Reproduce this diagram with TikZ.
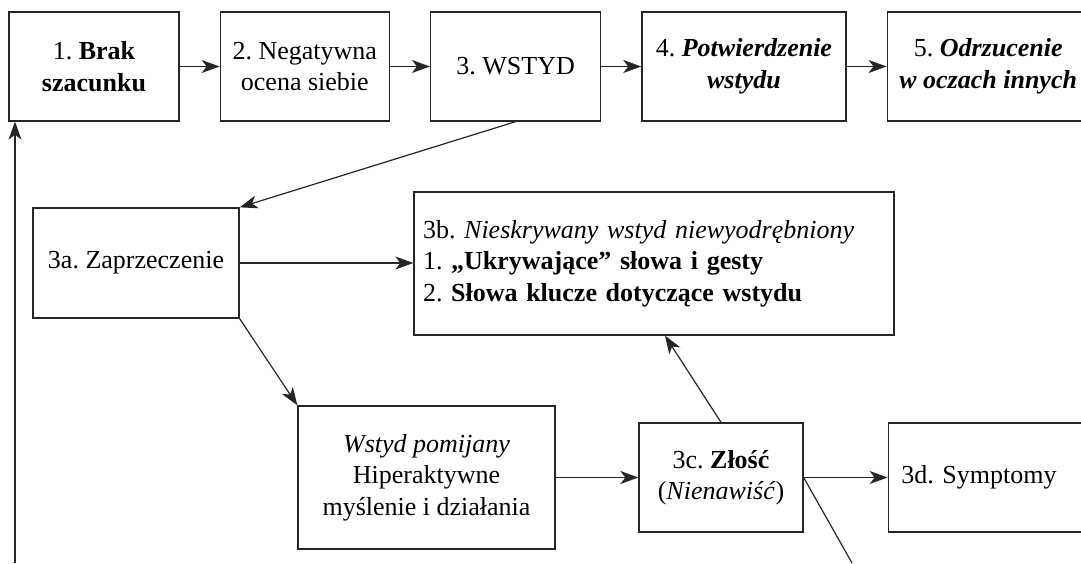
\documentclass[tikz,border=0pt]{standalone}
\usepackage{fontspec}
\setmainfont{Liberation Serif}
\usetikzlibrary{calc,arrows.meta,positioning}

\begin{document}
\frenchspacing
\begin{tikzpicture}[x=1pt,y=-1pt,>={Stealth[length=18pt,width=13pt,inset=5pt]},node distance=40pt,
  box/.style={draw=black!85,line width=1.3pt,minimum width=170pt,minimum height=109pt,align=center,inner sep=6pt,font=\fontsize{26}{31.5}\selectfont},
  line/.style={->,line width=1.2pt,draw=black!85}]

  \useasboundingbox (0,0) rectangle (1081,563);
  \clip (0,0) rectangle (1081,563);

  % top row
  \node[box] (brak) at (94,66.5) {1. \textbf{Brak}\\\textbf{szacunku}};
  \node[box,minimum width=169pt] (ocena) [right =of brak] {2. Negatywna\\ocena siebie};
  \node[box] (wstyd) [right =of ocena] {3. WSTYD};
  \node[box,minimum width=204pt] (potw) [right =of wstyd] {4. \textbf{\textit{Potwierdzenie}}\\\textbf{\textit{wstydu}}};
  \node[box,minimum width=202pt] (odrz) [right =of potw] {5. \textbf{\textit{Odrzucenie}}\\\textbf{\textit{w oczach innych}}};

  % lower part
  \node[box,minimum width=206pt,minimum height=110pt] (zaprz) at (136,263) {3a. Zaprzeczenie};
  \node[box,minimum width=480pt,minimum height=143pt,text width=462pt,inner xsep=9pt,align=left] (nieskr) at (654,263.5)
    {3b. \textit{Nieskrywany wstyd niewyodrębniony}\\1. \textbf{„Ukrywające” słowa i gesty}\\2. \textbf{Słowa klucze dotyczące wstydu}};
  \node[box,minimum width=257pt,minimum height=143pt] (pomij) at (426.5,477.5) {\textit{Wstyd pomijany}\\Hiperaktywne\\myślenie i działania};
  \node[box,minimum width=164pt] (zlosc) at (721,477.5) {3c. \textbf{Złość}\\(\textit{Nienawiść})};
  \node[box,minimum width=220pt,text width=194pt,inner xsep=13pt,align=left] (sympt) [right =84pt of zlosc] {3d. Symptomy};

  \coordinate (dol) at (15,563);
  \coordinate (dalej) at (852,563);

  \draw[line] (brak) -- (ocena);
  \draw[line] (ocena) -- (wstyd);
  \draw[line] (wstyd) -- (potw);
  \draw[line] (potw) -- (odrz);

  \draw[line] (wstyd.south) -- (zaprz.north east);
  \draw[line] (zaprz.east) -- (nieskr.west |- zaprz.east);
  \draw[line] (zaprz.south east) -- (pomij.north west);
  \draw[line] (pomij) -- (zlosc);
  \draw[line] (zlosc.north) -- ([xshift=11pt]nieskr.south);
  \draw[line] (zlosc) -- (sympt);
  \draw[line,-] (zlosc.east) -- (dalej);

  \draw[line] (dol) -- (dol |- brak.south);

\end{tikzpicture}
\end{document}
